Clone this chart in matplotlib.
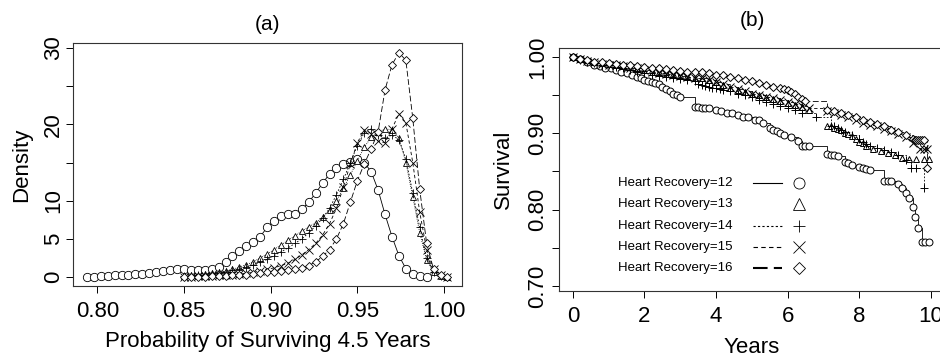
import numpy as np
import matplotlib.pyplot as plt

plt.rcParams['font.family'] = ['Liberation Sans', 'DejaVu Sans']

# ---- panel (a): posterior densities of 4.5-year survival ----
dens_x12 = [0.794, 0.798, 0.802, 0.806, 0.810, 0.814, 0.818, 0.822, 0.826, 0.830,
            0.834, 0.838, 0.842, 0.846, 0.850, 0.854, 0.858, 0.862, 0.866, 0.870,
            0.874, 0.878, 0.882, 0.886, 0.890, 0.894, 0.898, 0.902, 0.906, 0.910,
            0.914, 0.918, 0.922, 0.926, 0.930, 0.934, 0.938, 0.942, 0.946, 0.950,
            0.954, 0.958, 0.962, 0.966, 0.970, 0.974, 0.978, 0.982, 0.986, 0.990]
dens_y12 = [0.0, 0.05, 0.1, 0.15, 0.2, 0.25, 0.3, 0.35, 0.45, 0.5,
            0.6, 0.75, 0.9, 1.0, 1.0, 0.95, 0.9, 0.9, 1.0, 1.3,
            1.9, 2.7, 3.4, 4.0, 4.6, 5.3, 6.5, 7.4, 8.0, 8.2,
            8.3, 8.9, 9.8, 11.0, 12.3, 13.5, 14.3, 14.8, 15.1, 15.4,
            15.0, 13.8, 11.4, 8.2, 5.3, 2.8, 1.1, 0.4, 0.1, 0.0]

dens_x = [0.850, 0.854, 0.858, 0.862, 0.866, 0.870, 0.874, 0.878, 0.882, 0.886,
          0.890, 0.894, 0.898, 0.902, 0.906, 0.910, 0.914, 0.918, 0.922, 0.926,
          0.930, 0.934, 0.938, 0.942, 0.946, 0.950, 0.954, 0.958, 0.962, 0.966,
          0.970, 0.974, 0.978, 0.982, 0.986, 0.990, 0.994, 0.998, 1.002]
dens_y13 = [0.1, 0.2, 0.3, 0.4, 0.5, 0.6, 0.8, 1.0, 1.3, 1.6,
            2.0, 2.5, 3.0, 3.6, 4.2, 4.8, 5.4, 6.0, 6.6, 7.1,
            7.8, 8.8, 10.0, 11.6, 13.4, 15.2, 17.0, 18.3, 19.0, 19.4,
            19.3, 18.2, 15.0, 10.5, 5.8, 2.2, 0.6, 0.1, 0.0]
dens_y14 = [0.1, 0.15, 0.2, 0.3, 0.4, 0.5, 0.7, 0.9, 1.1, 1.3,
            1.6, 1.9, 2.3, 2.8, 3.3, 3.8, 4.4, 5.0, 5.8, 6.7,
            7.7, 9.0, 10.8, 12.8, 15.0, 17.2, 18.9, 19.4, 18.6, 18.2,
            18.6, 18.0, 15.5, 11.0, 6.5, 2.5, 0.7, 0.1, 0.0]
dens_y15 = [0.0, 0.05, 0.1, 0.1, 0.15, 0.2, 0.25, 0.3, 0.4, 0.5,
            0.6, 0.8, 1.0, 1.2, 1.5, 1.8, 2.3, 2.9, 3.6, 4.4,
            5.5, 7.0, 9.0, 11.8, 14.8, 17.6, 19.2, 18.8, 17.8, 17.6,
            19.4, 21.4, 20.2, 15.0, 8.5, 3.6, 1.0, 0.2, 0.0]
dens_y16 = [0.0, 0.0, 0.05, 0.05, 0.1, 0.1, 0.15, 0.2, 0.25, 0.3,
            0.4, 0.5, 0.6, 0.7, 0.8, 0.9, 1.0, 1.2, 1.5, 2.0,
            2.7, 3.6, 5.0, 7.0, 9.8, 12.6, 14.8, 16.8, 19.0, 24.5,
            27.8, 29.4, 28.4, 20.8, 11.5, 4.4, 1.0, 0.2, 0.0]

# ---- panel (b): survival curves with censoring marks ----
t12 = [0, 0.2, 0.4, 0.6, 0.75, 0.9, 1.05, 1.2, 1.35, 1.5,
       1.65, 1.8, 1.9, 2.0, 2.1, 2.2, 2.3, 2.4, 2.5, 2.6,
       2.7, 2.8, 2.9, 3.0, 3.4, 3.5, 3.6, 3.7, 3.8, 4.0,
       4.15, 4.3, 4.45, 4.6, 4.75, 4.9, 5.1, 5.2, 5.3, 5.5,
       5.6, 5.7, 5.8, 5.9, 6.1, 6.3, 6.4, 6.5, 6.6, 7.1,
       7.2, 7.3, 7.4, 7.6, 7.7, 7.8, 8.0, 8.1, 8.2, 8.3,
       8.7, 8.8, 8.9, 9.1, 9.2, 9.3, 9.4, 9.5, 9.55, 9.65,
       9.75, 9.85, 9.95]
s12 = [1.0, 0.997, 0.994, 0.990, 0.988, 0.986, 0.985, 0.983, 0.981, 0.979,
       0.977, 0.974, 0.972, 0.970, 0.969, 0.967, 0.966, 0.964, 0.961, 0.958,
       0.955, 0.952, 0.950, 0.947, 0.935, 0.934, 0.933, 0.933, 0.933, 0.931,
       0.929, 0.927, 0.926, 0.924, 0.922, 0.921, 0.918, 0.917, 0.914, 0.907,
       0.905, 0.903, 0.900, 0.898, 0.895, 0.890, 0.884, 0.884, 0.884, 0.873,
       0.872, 0.872, 0.870, 0.862, 0.861, 0.859, 0.856, 0.854, 0.853, 0.852,
       0.838, 0.838, 0.838, 0.833, 0.829, 0.822, 0.815, 0.804, 0.791, 0.776,
       0.757, 0.757, 0.757]
t13 = [0, 0.2, 0.4, 0.6, 0.8, 1.0, 1.2, 1.4, 1.6, 1.8,
       2.0, 2.2, 2.4, 2.6, 2.8, 3.0, 3.2, 3.4, 3.6, 3.8,
       4.0, 4.2, 4.4, 4.6, 4.8, 5.0, 5.2, 5.4, 5.6, 5.8,
       6.0, 6.2, 6.4, 6.6, 7.1, 7.2, 7.3, 7.4, 7.5, 7.6,
       7.7, 7.8, 7.9, 8.0, 8.1, 8.2, 8.4, 8.6, 8.8, 9.0,
       9.2, 9.4, 9.6, 9.8, 9.95]
s13 = [1.0, 0.998, 0.996, 0.994, 0.992, 0.991, 0.990, 0.988, 0.987, 0.986,
       0.985, 0.983, 0.981, 0.980, 0.978, 0.976, 0.975, 0.973, 0.972, 0.970,
       0.967, 0.963, 0.960, 0.957, 0.954, 0.952, 0.950, 0.947, 0.945, 0.942,
       0.940, 0.937, 0.934, 0.931, 0.910, 0.909, 0.907, 0.906, 0.904, 0.901,
       0.899, 0.896, 0.893, 0.889, 0.887, 0.884, 0.880, 0.877, 0.874, 0.871,
       0.868, 0.866, 0.866, 0.866, 0.866]
t14 = [0, 0.2, 0.4, 0.6, 0.8, 1.0, 1.2, 1.4, 1.6, 1.8,
       2.0, 2.2, 2.4, 2.6, 2.8, 3.0, 3.2, 3.4, 3.5, 3.6,
       3.7, 3.8, 3.9, 4.0, 4.1, 4.2, 4.4, 4.6, 4.8, 5.0,
       5.2, 5.4, 5.6, 5.8, 6.0, 6.2, 6.4, 6.8, 7.2, 7.3,
       7.4, 7.5, 7.6, 7.8, 8.0, 8.1, 8.2, 8.3, 8.5, 8.7,
       8.9, 9.1, 9.3, 9.45, 9.6, 9.8]
s14 = [1.0, 0.996, 0.994, 0.992, 0.990, 0.989, 0.987, 0.985, 0.983, 0.981,
       0.979, 0.977, 0.975, 0.974, 0.973, 0.971, 0.970, 0.968, 0.964, 0.963,
       0.962, 0.961, 0.960, 0.959, 0.958, 0.957, 0.955, 0.952, 0.950, 0.947,
       0.944, 0.941, 0.938, 0.936, 0.933, 0.930, 0.927, 0.921, 0.910, 0.909,
       0.907, 0.905, 0.902, 0.898, 0.893, 0.889, 0.886, 0.884, 0.881, 0.878,
       0.875, 0.871, 0.865, 0.855, 0.855, 0.828]
t15 = [0, 0.2, 0.4, 0.6, 0.8, 1.0, 1.2, 1.4, 1.6, 1.8,
       2.0, 2.2, 2.4, 2.6, 2.8, 3.0, 3.2, 3.4, 3.6, 3.8,
       4.0, 4.2, 4.4, 4.6, 4.8, 5.0, 5.2, 5.4, 5.6, 5.8,
       6.0, 6.2, 6.4, 6.6, 7.1, 7.3, 7.5, 7.7, 7.9, 8.1,
       8.3, 8.5, 8.7, 8.9, 9.1, 9.3, 9.5, 9.7, 9.8, 9.9]
s15 = [1.0, 0.997, 0.995, 0.993, 0.991, 0.990, 0.989, 0.988, 0.986, 0.985,
       0.983, 0.981, 0.979, 0.978, 0.977, 0.975, 0.974, 0.973, 0.972, 0.970,
       0.967, 0.964, 0.961, 0.958, 0.955, 0.952, 0.950, 0.948, 0.946, 0.944,
       0.941, 0.939, 0.936, 0.933, 0.929, 0.927, 0.924, 0.921, 0.917, 0.914,
       0.911, 0.909, 0.906, 0.903, 0.899, 0.895, 0.887, 0.879, 0.879, 0.879]
t16 = [0, 0.2, 0.4, 0.6, 0.8, 1.0, 1.2, 1.4, 1.6, 1.8,
       2.0, 2.2, 2.4, 2.6, 2.8, 3.0, 3.2, 3.4, 3.6, 3.8,
       4.0, 4.2, 4.4, 4.6, 4.8, 5.0, 5.2, 5.4, 5.6, 5.8,
       5.9, 6.0, 6.1, 6.2, 6.3, 6.4, 6.5, 7.1, 7.3, 7.5,
       7.7, 7.9, 8.1, 8.3, 8.5, 8.7, 8.9, 9.1, 9.3, 9.5,
       9.55, 9.6, 9.65, 9.7, 9.75, 9.8, 9.9]
s16 = [1.0, 0.998, 0.996, 0.994, 0.993, 0.992, 0.991, 0.990, 0.989, 0.988,
       0.987, 0.986, 0.985, 0.984, 0.983, 0.982, 0.981, 0.981, 0.980, 0.979,
       0.977, 0.976, 0.974, 0.972, 0.970, 0.968, 0.966, 0.963, 0.961, 0.959,
       0.958, 0.957, 0.954, 0.951, 0.948, 0.945, 0.942, 0.931, 0.929, 0.927,
       0.924, 0.921, 0.918, 0.915, 0.912, 0.909, 0.905, 0.902, 0.898, 0.893,
       0.891, 0.891, 0.891, 0.891, 0.891, 0.891, 0.855]

labels = ['Heart Recovery=12', 'Heart Recovery=13', 'Heart Recovery=14',
          'Heart Recovery=15', 'Heart Recovery=16']
markers = ['o', '^', '+', 'x', 'D']
lstyles = ['-', 'none', (0, (2, 2)), (0, (4, 3)), (0, (7, 3))]

fs = 16
fig = plt.figure(figsize=(9.4, 3.55), dpi=100)
ax1 = fig.add_axes([73 / 940, 1 - 286 / 355, (462 - 73) / 940, (286 - 43) / 355])
ax2 = fig.add_axes([559 / 940, 1 - 291 / 355, (945 - 559) / 940, (291 - 48) / 355])

dens = [(dens_x12, dens_y12), (dens_x, dens_y13), (dens_x, dens_y14),
        (dens_x, dens_y15), (dens_x, dens_y16)]
msz_a = [6, 4.5, 6, 6, 4]
for i, (xx, yy) in enumerate(dens):
    ls = lstyles[i] if i != 1 else (0, (1, 1.5))
    ax1.plot(xx, yy, color='black', lw=0.6, ls=ls, marker=markers[i], ms=msz_a[i],
             mfc='white' if markers[i] in 'o^D' else 'black', mec='black', mew=0.6)

ax1.set_xlim(0.786, 1.0104)
ax1.set_ylim(-1.18, 30.66)
ax1.set_xticks([0.80, 0.85, 0.90, 0.95, 1.00])
ax1.set_xticklabels(['0.80', '0.85', '0.90', '0.95', '1.00'])
ax1.set_yticks([0, 5, 10, 15, 20, 25, 30])
ax1.set_yticklabels(['0', '5', '10', '', '20', '', '30'], rotation=90, va='center')
ax1.set_xlabel('Probability of Surviving 4.5 Years', fontsize=fs, labelpad=6.5)
ax1.set_ylabel('Density', fontsize=fs, labelpad=8)
ax1.set_title('(a)', fontsize=15, pad=9)

curves = [(t12, s12), (t13, s13), (t14, s14), (t15, s15), (t16, s16)]
msz_b = [5, 5, 6, 5.5, 4]
for i, (tt, ss) in enumerate(curves):
    if lstyles[i] != 'none':
        ax2.plot(tt, ss, color='black', lw=0.6, ls=lstyles[i], drawstyle='steps-post')
    ax2.plot(tt, ss, ls='none', marker=markers[i], ms=msz_b[i], mfc='white',
             mec='black', mew=0.7)

ax2.set_xlim(-0.39, 10.4)
ax2.set_ylim(0.6934, 1.0118)
ax2.set_xticks([0, 2, 4, 6, 8, 10])
ax2.set_yticks([0.70, 0.75, 0.80, 0.85, 0.90, 0.95, 1.00])
ax2.set_yticklabels(['0.70', '', '0.80', '', '0.90', '', '1.00'], rotation=90, va='center')
ax2.set_xlabel('Years', fontsize=fs, labelpad=7)
ax2.set_ylabel('Survival', fontsize=fs, labelpad=9)
ax2.set_title('(b)', fontsize=15, pad=16)

# legend drawn R-style: text, line sample, symbol
leg_y = [0.444, 0.358, 0.267, 0.181, 0.095]
for i in range(5):
    ax2.text(0.153, leg_y[i], labels[i], transform=ax2.transAxes, fontsize=9.5,
             va='center', ha='left')
    if lstyles[i] != 'none':
        ax2.plot([0.503, 0.578], [leg_y[i], leg_y[i]], transform=ax2.transAxes,
                 color='black', lw=0.8 if i < 4 else 1.5, ls=lstyles[i])
    ax2.plot([0.622], [leg_y[i]], transform=ax2.transAxes, marker=markers[i],
             ms=8 if i != 4 else 6, mfc='white', mec='black', mew=0.6, ls='none')

for ax, ypad in ((ax1, 1.5), (ax2, 3)):
    for sp in ax.spines.values():
        sp.set_linewidth(0.8)
        sp.set_color('#333333')
    ax.tick_params(direction='out', length=5, width=0.7, labelsize=fs)
    ax.tick_params(axis='x', pad=6)
    ax.tick_params(axis='y', pad=ypad)

fig.savefig('out.png', dpi=100)
